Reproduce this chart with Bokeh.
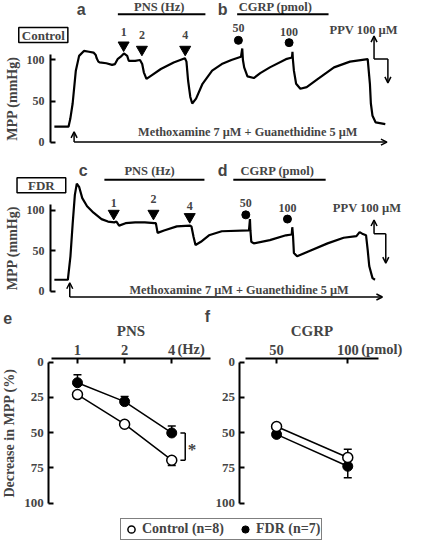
from bokeh.plotting import figure
from bokeh.models import (Range1d, LinearAxis, FixedTicker, Label, Arrow, OpenHead, TeeHead,
                          Whisker, ColumnDataSource, Legend, LegendItem)
from bokeh.layouts import column
from bokeh.embed import file_html
from bokeh.resources import INLINE

SERIF = "Liberation Serif"
SANS = "Liberation Sans"

# ---------------- data ----------------
# perfusion-pressure traces: (time, a.u. ; MPP, mmHg)
ctrl_trace = [(4, 18.8), (18.7, 18.8), (20.5, 28), (23, 47), (26.3, 87), (29.7, 105), (34.7, 111),
              (40, 110), (44.7, 109), (47, 106), (48, 102), (49.7, 98), (51, 97), (58, 96), (64, 94),
              (67, 95), (69.7, 101), (73, 104), (76.3, 108), (79.7, 105), (81.3, 99), (88, 99),
              (93, 100), (95.3, 95), (97, 85), (99.7, 77), (104.7, 81), (114.7, 89), (128, 97),
              (139.7, 102), (141.3, 98), (143, 75), (145.3, 55), (147.3, 47), (151.3, 53), (158, 71),
              (168, 87), (178, 95), (188, 100), (198, 104), (199.3, 114), (200, 100), (201.3, 91),
              (204.7, 80), (211.3, 78), (218, 84), (228, 91), (244.7, 101), (251, 103), (251.5, 110),
              (252, 100), (253, 87), (255.3, 71), (259.7, 65), (266.3, 67), (278, 77), (294.7, 91),
              (311.3, 98), (329.7, 101), (332, 71), (333, 47), (334.7, 32), (338, 24), (348, 22)]
fdr_trace = [(4, 14), (18, 14), (20.7, 43), (23, 83), (25.3, 119), (27.3, 133), (29.7, 129), (33, 115),
             (38, 105), (44.7, 97), (53, 89), (59.7, 86), (66.3, 85), (68.5, 86), (71.3, 81), (78, 84),
             (88, 85), (98, 85), (108, 84), (109.5, 84), (111.3, 72), (118, 75), (131.3, 80),
             (144.7, 81), (146.5, 80), (148.7, 67), (150.7, 57), (156.3, 61), (164.7, 69), (178, 74),
             (206.3, 75), (207.3, 89), (207.8, 75), (208.7, 61), (211.3, 59), (228, 63), (244.7, 69),
             (250.7, 70), (251.3, 79), (252, 70), (253, 47), (256.3, 43), (268, 49), (288, 59),
             (304.7, 66), (318, 68), (321.3, 73), (324, 71), (328, 69), (329.7, 51), (331.3, 31),
             (334.7, 16), (337.3, 14)]

pns_hz = ["1", "2", "4"]
cgrp_pmol = ["50", "100"]
ctrl_pns_t = [76, 95, 140]
ctrl_cgrp_t = [195.3, 248]
fdr_pns_t = [65.7, 107, 144.7]
fdr_cgrp_t = [203, 246.3]

# decrease in MPP (%), mean and SEM
pns_ctrl_mean = [23, 44, 69.5]
pns_ctrl_sem = [1.5, 1.5, 3.7]
pns_fdr_mean = [14.6, 28, 50.2]
pns_fdr_sem = [5.6, 3.7, 5.0]
cgrp_ctrl_mean = [45.6, 67.6]
cgrp_ctrl_sem = [1.5, 5.8]
cgrp_fdr_mean = [51.2, 73.8]
cgrp_fdr_sem = [1.5, 8.2]

legend_labels = ["Control (n=8)", "FDR (n=7)"]


# ---------------- helpers ----------------
def style_axis(ax, tick_size="12px", label_size="14px", standoff=6):
    ax.axis_line_width = 2
    ax.major_tick_line_width = 2
    ax.major_tick_in = 5
    ax.major_tick_out = 0
    ax.minor_tick_line_color = None
    ax.major_label_text_font = SERIF
    ax.major_label_text_font_style = "bold"
    ax.major_label_text_font_size = tick_size
    ax.major_label_standoff = standoff
    ax.axis_label_text_font = SERIF
    ax.axis_label_text_font_style = "bold"
    ax.axis_label_text_font_size = label_size
    ax.axis_label_standoff = 4


def txt(p, x, y, s, size="12px", font=SERIF, align="center", **kw):
    p.add_layout(Label(x=x, y=y, text=s, text_font=font, text_font_style="bold",
                       text_font_size=size, text_align=align, text_baseline="middle", **kw))


def arrow(p, x0, y0, x1, y1, head=True, lw=1.5, **kw):
    p.add_layout(Arrow(x_start=x0, y_start=y0, x_end=x1, y_end=y1, line_width=lw, line_color="black",
                       end=OpenHead(size=6, line_width=lw) if head else None, **kw))


def base_fig(w, h, xr, yr):
    p = figure(width=w, height=h, x_range=Range1d(*xr), y_range=Range1d(*yr),
               x_axis_type=None, y_axis_type=None, toolbar_location=None,
               output_backend="svg", min_border=0)
    p.outline_line_color = None
    return p


def trace_panel(h, yr, trace, box, box_xy, box_pad, letters, hdr, pns_t, pns_y, pns_ty,
                cgrp_t, cgrp_y, cgrp_ty, ppv, base):
    p = base_fig(405, h, (-52, 369), yr)
    ax = LinearAxis(ticker=FixedTicker(ticks=[0, 50, 100]), bounds=(0, 107),
                    axis_label="MPP (mmHg)", fixed_location=0)
    style_axis(ax)
    p.add_layout(ax, "left")
    t, v = zip(*trace)
    p.line(list(t), list(v), line_width=2.2, line_color="black")
    # header: panel letters, titles, bars
    (l1, l2, la, lb, ly) = letters
    txt(p, la, ly, l1, "16px", SANS)
    txt(p, lb, ly, l2, "16px", SANS)
    (pns_x, cg_x, ty, bar_y, pns_bar, cg_bar) = hdr
    txt(p, pns_x, ty, "PNS (Hz)", "12.5px")
    txt(p, cg_x, ty, "CGRP (pmol)", "12.5px")
    arrow(p, pns_bar[0], bar_y, pns_bar[1], bar_y, head=False, lw=2)
    arrow(p, cg_bar[0], bar_y, cg_bar[1], bar_y, head=False, lw=2)
    # group box
    txt(p, box_xy[0], box_xy[1], box, "13px", border_line_color="black", border_line_width=1.5,
        background_fill_color="white", padding=box_pad)
    # stimulus markers
    p.scatter(pns_t, pns_y, marker="inverted_triangle", size=11, color="black")
    for tt, s, yy in zip(pns_t, pns_hz, pns_ty):
        txt(p, tt, yy, s, "12px")
    p.scatter(cgrp_t, cgrp_y, marker="circle", size=8, color="black")
    for tt, s, yy in zip(cgrp_t, cgrp_pmol, cgrp_ty):
        txt(p, tt, yy, s, "12px")
    # papaverine
    (ppv_tx, ppv_ty, ax0, ax1, y_top, y_mid, y_bot) = ppv
    txt(p, ppv_tx, ppv_ty, "PPV 100 \u00b5M", "12.5px")
    arrow(p, ax0, y_mid, ax0, y_top)
    arrow(p, ax0, y_mid, ax1, y_mid, head=False)
    arrow(p, ax1, y_mid, ax1, y_bot)
    # methoxamine + guanethidine
    (bx0, bx1, by0, by1, tx, tyy) = base
    arrow(p, bx0, by0, bx0, by1)
    arrow(p, bx0, by0, bx1, by0)
    txt(p, tx, tyy, "Methoxamine 7 \u00b5M + Guanethidine 5 \u00b5M", "12.3px")
    return p


pA = trace_panel(150, (-10.2, 172.4), ctrl_trace, "Control", (-7.5, 130.4), (3, 0),
                 ("a", "b", 32, 179, 162),
                 (113, 234, 164.5, 155.7, (70, 161), (194, 289)),
                 ctrl_pns_t, [118, 112.8, 112.8], [134.2, 130.7, 130.2],
                 ctrl_cgrp_t, [123.9, 121.1], [139, 134.2],
                 (325.5, 137, 336.3, 350.7, 129.1, 101.2, 72.2),
                 (24.5, 349.7, 0, 12.5, 205, 12.5))

pB = trace_panel(154, (-16.6, 173.9), fdr_trace, "FDR", (-9.5, 130.9), (11, 0),
                 ("c", "d", 34, 179, 149.7),
                 (103, 236, 148.5, 137.6, (56, 160), (190, 286)),
                 fdr_pns_t, [96, 96, 91.9], [109.3, 113.3, 105.2],
                 fdr_cgrp_t, [94.3, 89.1], [109.3, 103.3],
                 (329, 103.3, 336.3, 348.5, 87.9, 70.9, 34.5),
                 (20, 345, -7.3, 10.3, 196, 1.8))

# ---------------- dose-response panels (e, f) + legend ----------------
pC = base_fig(405, 239, (-1.633, 6.959), (128.5, -40.8))
pC.extra_x_ranges = {"f": Range1d(-3.878, 1.811)}


def dose_panel(p, rname, axis_x, xbounds, cats, title, unit, unit_x, letter, letter_xy,
               ctrl_m, ctrl_s, fdr_m, fdr_s, fdr_up, ylabel):
    yax = LinearAxis(ticker=FixedTicker(ticks=[0, 25, 50, 75, 100]), bounds=(0, 100),
                     axis_label=ylabel, x_range_name=rname, fixed_location=axis_x)
    style_axis(yax, tick_size="13px", label_size="14px", standoff=5)
    p.add_layout(yax, "left")
    xs = list(range(len(cats)))
    xax = LinearAxis(ticker=FixedTicker(ticks=xs), bounds=xbounds, axis_label=title,
                     x_range_name=rname, fixed_location=-2.78,
                     major_label_overrides={i: c for i, c in enumerate(cats)})
    style_axis(xax, tick_size="14.5px", label_size="15px", standoff=3)
    p.add_layout(xax, "above")
    txt(p, unit_x, -9.4, unit, "14.5px", align="left", x_range_name=rname)
    txt(p, letter_xy[0], letter_xy[1], letter, "16px", SANS, x_range_name=rname)
    # error bars (one-sided, pointing away from the other group)
    if fdr_up:
        f_lo = [m - s for m, s in zip(fdr_m, fdr_s)]; f_hi = list(fdr_m)
        c_lo = list(ctrl_m); c_hi = [m + s for m, s in zip(ctrl_m, ctrl_s)]
    else:
        f_lo = list(fdr_m); f_hi = [m + s for m, s in zip(fdr_m, fdr_s)]
        c_lo = [m - s for m, s in zip(ctrl_m, ctrl_s)]; c_hi = list(ctrl_m)
    for lo, hi in ((f_lo, f_hi), (c_lo, c_hi)):
        src = ColumnDataSource(dict(x=xs, lo=lo, hi=hi))
        p.add_layout(Whisker(base="x", lower="lo", upper="hi", source=src, dimension="height",
                             line_width=1.5, line_color="black", level="underlay",
                             x_range_name=rname,
                             upper_head=TeeHead(size=8, line_width=1.5),
                             lower_head=TeeHead(size=8, line_width=1.5)))
    p.line(xs, fdr_m, line_width=1.5, line_color="black", x_range_name=rname)
    p.line(xs, ctrl_m, line_width=1.5, line_color="black", x_range_name=rname)
    rf = p.scatter(xs, fdr_m, marker="circle", size=10, fill_color="black", line_color="black",
                   x_range_name=rname)
    rc = p.scatter(xs, ctrl_m, marker="circle", size=10, fill_color="white", line_color="black",
                   line_width=1.5, x_range_name=rname)
    return rc, rf


rc, rf = dose_panel(pC, "default", -0.612, (-0.55, 2.82), pns_hz, "PNS", "(Hz)", 2.12, "e",
                    (-1.48, -31.3), pns_ctrl_mean, pns_ctrl_sem, pns_fdr_mean, pns_fdr_sem,
                    True, "Decrease in MPP (%)")
# significance bracket at 4 Hz
arrow(pC, 2.286, pns_fdr_mean[2], 2.286, pns_ctrl_mean[2], head=False)
arrow(pC, 2.184, pns_fdr_mean[2], 2.286, pns_fdr_mean[2], head=False)
arrow(pC, 2.184, pns_ctrl_mean[2], 2.286, pns_ctrl_mean[2], head=False)
txt(pC, 2.43, 62, "*", "17px")

dose_panel(pC, "f", -0.514, (-0.43, 1.43), cgrp_pmol, "CGRP", "(pmol)", 1.19, "f",
           (-0.973, -32.6), cgrp_ctrl_mean, cgrp_ctrl_sem, cgrp_fdr_mean, cgrp_fdr_sem, False, "")

leg = Legend(items=[LegendItem(label=legend_labels[0], renderers=[rc]),
                    LegendItem(label=legend_labels[1], renderers=[rf])],
             orientation="horizontal", location=(120, 3),
             label_text_font=SERIF, label_text_font_style="bold", label_text_font_size="14px",
             border_line_color="black", border_line_width=1.5, padding=1, spacing=12,
             glyph_width=18, glyph_height=18, label_height=16, label_standoff=2, margin=0)
pC.add_layout(leg)

layout = column(pA, pB, pC)
open("out.html", "w").write(file_html(layout, INLINE))
